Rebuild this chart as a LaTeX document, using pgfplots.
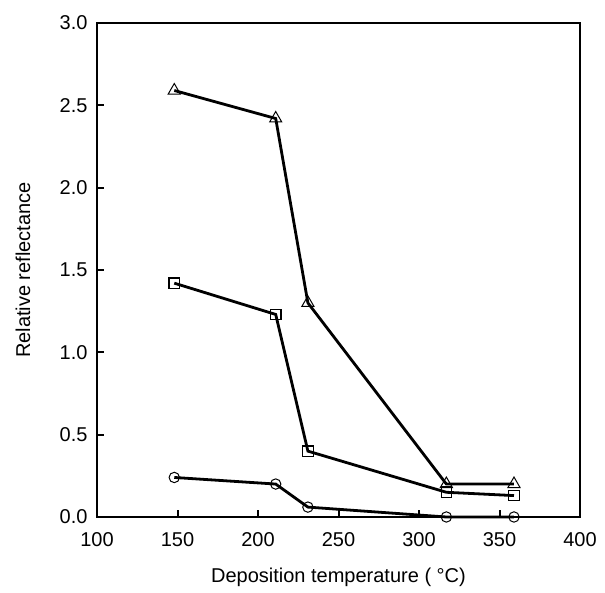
\documentclass[border=0pt]{standalone}
\usepackage{fontspec}
\setmainfont{Liberation Sans}
\usepackage{pgfplots}
\pgfplotsset{compat=1.18}
\pgfplotstableread{
x y
148 2.59
211 2.42
231 1.30
317 0.20
359 0.20
}\tri
\pgfplotstableread{
x y
148 1.42
211 1.23
231 0.40
317 0.15
359 0.13
}\sq
\pgfplotstableread{
x y
148 0.24
211 0.20
231 0.06
317 0.00
359 0.00
}\circ
\begin{document}
\begin{tikzpicture}
\begin{axis}[
  width=241.5pt, height=247pt, scale only axis,
  xmin=100, xmax=400, ymin=0, ymax=3.0,
  xtick={100,150,...,400}, ytick={0,0.5,...,3.0},
  tick align=inside, xtick pos=bottom, ytick pos=left,
  major tick length=3.5pt,
  every tick/.style={black, line width=1pt},
  axis line style={line width=1.2pt},
  /pgf/number format/assume math mode=true,
  yticklabel style={/pgf/number format/fixed, /pgf/number format/precision=1, /pgf/number format/fixed zerofill, xshift=-1.2pt},
  xticklabel style={/pgf/number format/set thousands separator={}, yshift=-4pt},
  tick label style={font=\fontsize{10}{12}\selectfont},
  xlabel={Deposition temperature ( °C)},
  ylabel={Relative reflectance},
  label style={font=\fontsize{10}{12}\selectfont},
  xlabel style={at={(rel axis cs:0.5,-0.1215)}, anchor=center},
  ylabel style={at={(rel axis cs:-0.153,0.5)}, anchor=center},
  clip=false,
]
\addplot[black, line width=1.4pt, mark=triangle, mark size=3.5pt, mark options={fill=none, line width=0.5pt}] table[x=x,y=y] {\tri};
\addplot[black, line width=1.4pt, mark=square, mark size=2.6pt, mark options={fill=none, line width=0.6pt}] table[x=x,y=y] {\sq};
\addplot[black, line width=1.4pt, mark=o, mark size=2.6pt, mark options={fill=none, line width=0.5pt}] table[x=x,y=y] {\circ};
\end{axis}
\path (current axis.south west) ++(-48.5pt,-35pt);
\path (current axis.north east) ++(12.5pt,11.5pt);
\end{tikzpicture}
\end{document}
